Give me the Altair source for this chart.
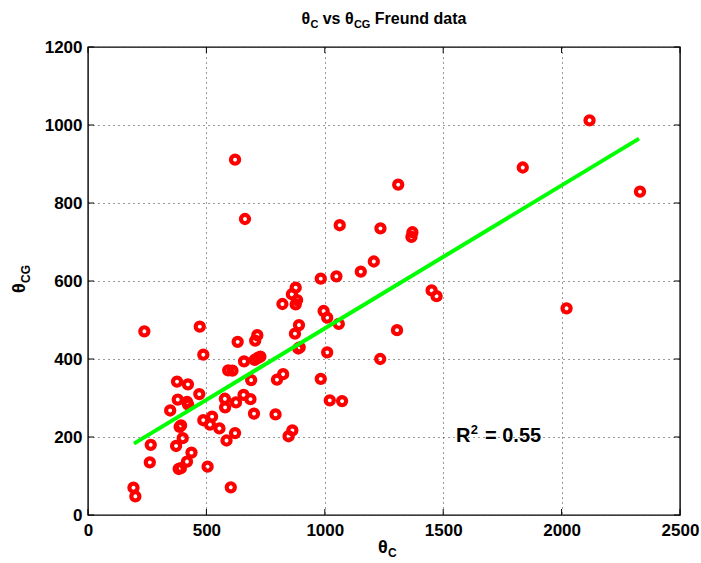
import altair as alt
import pandas as pd

# ---- data ----
theta_c = [621, 663, 821, 877, 861, 883, 877, 1310, 1063, 1235, 1370, 1366, 1207, 1152,
           1049, 983, 1451, 1472, 995, 1010, 1059, 891, 874, 888, 894, 1305, 1010, 1234,
           983, 1021, 1073, 2118, 1836, 2331, 2021, 238, 472, 487, 632, 715, 706, 659,
           704, 718, 728, 592, 610, 689, 824, 798, 376, 422, 470, 379, 418, 423, 347,
           578, 579, 625, 657, 686, 701, 792, 863, 847, 487, 524, 515, 555, 393, 387,
           400, 372, 265, 261, 437, 418, 383, 392, 505, 585, 621, 603, 192, 200]
theta_cg = [911, 759, 541, 583, 566, 551, 540, 847, 743, 735, 725, 713, 650, 624,
            612, 606, 576, 561, 523, 506, 490, 487, 465, 427, 430, 474, 417, 400,
            349, 294, 292, 1012, 891, 829, 530, 471, 483, 411, 444, 461, 447, 394,
            398, 403, 406, 371, 370, 346, 361, 347, 342, 335, 310, 296, 290, 283, 268,
            298, 276, 289, 308, 297, 260, 258, 217, 202, 243, 252, 232, 222, 230, 226,
            197, 177, 180, 135, 160, 137, 118, 120, 124, 191, 210, 71, 70, 48]
fit_x = [194, 2327]
fit_y = [183, 965]
x_ticks = [0, 500, 1000, 1500, 2000, 2500]
y_ticks = [0, 200, 400, 600, 800, 1000, 1200]

W, H = 592, 468
FONT = "Liberation Sans"

pts = pd.DataFrame({"c": theta_c, "cg": theta_cg})
fit = pd.DataFrame({"c": fit_x, "cg": fit_y})
xt = pd.DataFrame({"c": x_ticks})
yt = pd.DataFrame({"cg": y_ticks})
one = pd.DataFrame({"k": [0]})

xs = alt.Scale(domain=[0, 2500], nice=False, zero=False)
ys = alt.Scale(domain=[0, 1200], nice=False, zero=False)

grid_common = dict(grid=True, gridDash=[1, 4], gridColor="#333333", gridWidth=1,
                   ticks=False, domain=False, title=None, format="d",
                   labelFont=FONT, labelFontSize=17, labelFontWeight="bold",
                   labelColor="black")

xaxis = alt.Axis(values=x_ticks, labelPadding=7, labelFlush=False, **grid_common)
yaxis = alt.Axis(values=y_ticks, labelPadding=6, labelFlush=False, **grid_common)

X = alt.X("c:Q", scale=xs, axis=xaxis)
Y = alt.Y("cg:Q", scale=ys, axis=yaxis)

points = alt.Chart(pts).mark_point(
    shape="circle", filled=False, color="#ff0000", strokeWidth=4.2, size=66, opacity=1
).encode(x=X, y=Y)

line = alt.Chart(fit).mark_line(color="#00ff00", strokeWidth=4).encode(x=X, y=Y)

tick_style = dict(color="black", strokeWidth=1)
tb = alt.Chart(xt).mark_rule(**tick_style).encode(x=X, y=alt.value(H), y2=alt.value(H - 6))
tt = alt.Chart(xt).mark_rule(**tick_style).encode(x=X, y=alt.value(0), y2=alt.value(6))
tl = alt.Chart(yt).mark_rule(**tick_style).encode(y=Y, x=alt.value(0), x2=alt.value(6))
tr = alt.Chart(yt).mark_rule(**tick_style).encode(y=Y, x=alt.value(W - 6), x2=alt.value(W))


def txt(s, x, y, size, angle=0, align="left"):
    kw = dict(font=FONT, fontSize=size, fontWeight="bold", color="black",
              align=align, baseline="alphabetic")
    if angle:
        kw["angle"] = angle
    return alt.Chart(one).mark_text(**kw).encode(
        x=alt.value(x), y=alt.value(y), text=alt.value(s))


texts = [
    # title
    txt("θ", 213.5, -23, 16), txt("C", 222.4, -19, 11),
    txt("vs", 234.7, -23, 16),
    txt("θ", 257, -23, 16), txt("CG", 265.9, -19, 11),
    txt("Freund data", 286.8, -23, 16),
    # x title
    txt("θ", 290, 506, 18), txt("C", 300, 510, 12),
    # y title
    txt("θ", -63, 246, 18, angle=270), txt("CG", -58, 236, 12, angle=270),
    # R^2 annotation
    txt("R", 368, 395, 20), txt("2", 382.7, 386.5, 13), txt("= 0.55", 397, 395, 20),
]

chart = alt.layer(points, line, tb, tt, tl, tr, *texts).properties(
    width=W, height=H,
    autosize=alt.AutoSizeParams(type="none"),
    padding={"left": 88, "top": 47, "right": 21, "bottom": 48},
    background="white",
).configure_view(stroke="black", strokeWidth=1.4)

chart.save("out.html", embed_options={"renderer": "svg", "actions": False})
